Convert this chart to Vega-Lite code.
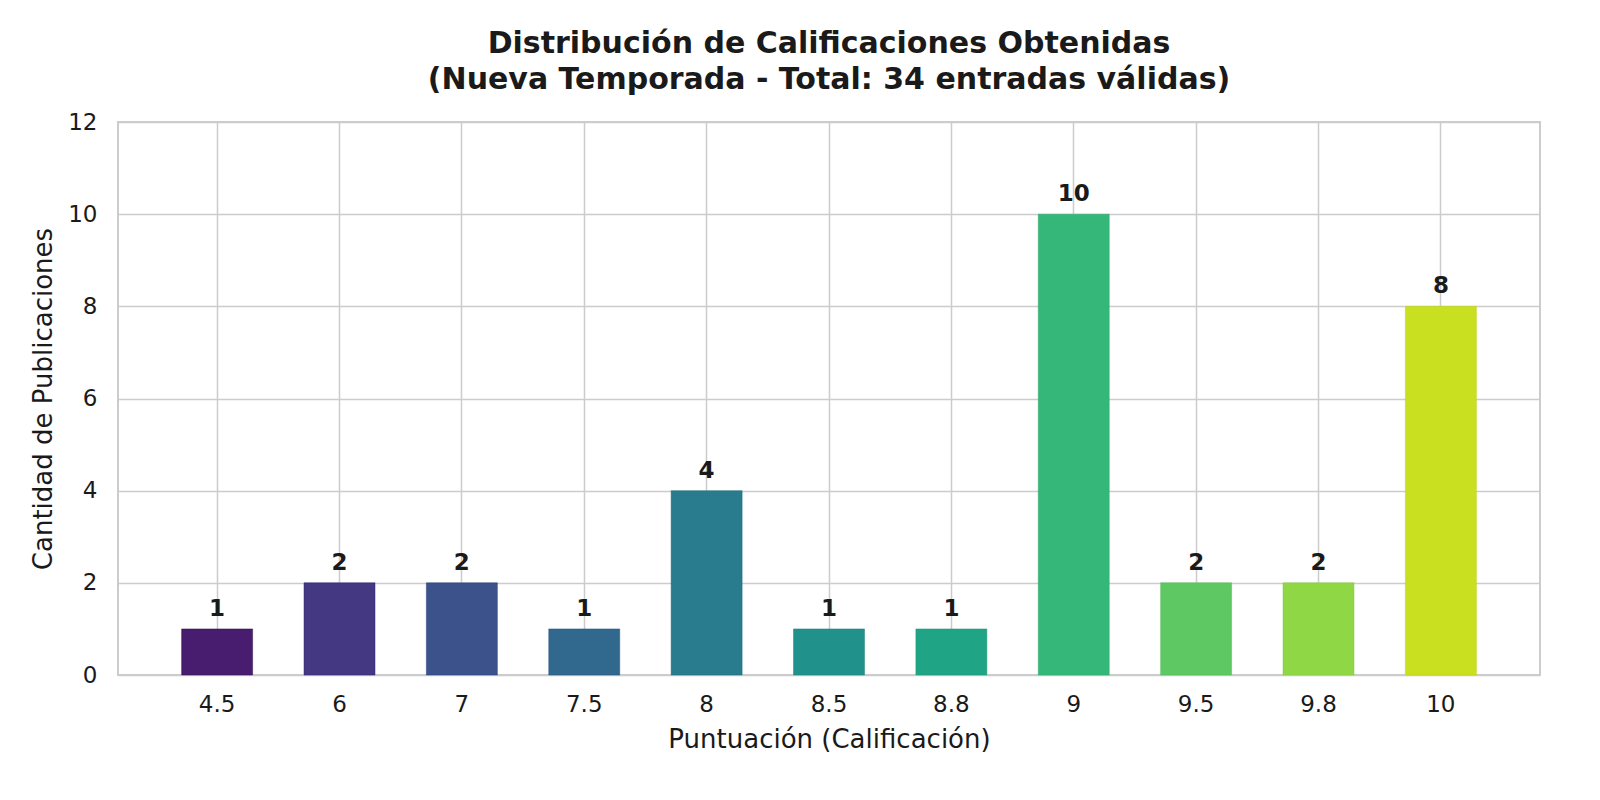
{
  "$schema": "https://vega.github.io/schema/vega-lite/v6.json",
  "autosize": {"type": "none"},
  "width": 1422,
  "height": 553,
  "padding": {"left": 118, "top": 122, "right": 60, "bottom": 125},
  "background": "white",
  "config": {
    "font": "DejaVu Sans",
    "view": {"stroke": "#cccccc", "strokeWidth": 2},
    "axis": {
      "grid": true,
      "gridColor": "#cccccc",
      "gridWidth": 1.5,
      "domain": false,
      "ticks": false,
      "labelFont": "DejaVu Sans",
      "labelFontSize": 23,
      "labelColor": "#1a1a1a",
      "titleFont": "DejaVu Sans",
      "titleFontSize": 26,
      "titleFontWeight": "normal",
      "titleColor": "#1a1a1a"
    }
  },
  "title": {
    "text": ["Distribución de Calificaciones Obtenidas", "(Nueva Temporada - Total: 34 entradas válidas)"],
    "font": "DejaVu Sans",
    "fontSize": 30,
    "fontWeight": "bold",
    "color": "#1a1a1a",
    "lineHeight": 36,
    "offset": 16,
    "anchor": "middle"
  },
  "data": {
    "values": [
      {"puntuacion": "4.5", "cantidad": 1},
      {"puntuacion": "6", "cantidad": 2},
      {"puntuacion": "7", "cantidad": 2},
      {"puntuacion": "7.5", "cantidad": 1},
      {"puntuacion": "8", "cantidad": 4},
      {"puntuacion": "8.5", "cantidad": 1},
      {"puntuacion": "8.8", "cantidad": 1},
      {"puntuacion": "9", "cantidad": 10},
      {"puntuacion": "9.5", "cantidad": 2},
      {"puntuacion": "9.8", "cantidad": 2},
      {"puntuacion": "10", "cantidad": 8}
    ]
  },
  "encoding": {
    "x": {
      "field": "puntuacion",
      "type": "nominal",
      "sort": null,
      "scale": {"paddingInner": 0.42, "paddingOuter": 0.52},
      "axis": {
        "title": "Puntuación (Calificación)",
        "labelAngle": 0,
        "labelPadding": 18,
        "titlePadding": 10,
        "bandPosition": 0.5
      }
    },
    "y": {
      "field": "cantidad",
      "type": "quantitative",
      "scale": {"domain": [0, 12], "nice": false},
      "axis": {
        "title": "Cantidad de Publicaciones",
        "values": [0, 2, 4, 6, 8, 10, 12],
        "labelPadding": 21,
        "titlePadding": 11
      }
    }
  },
  "layer": [
    {
      "mark": {"type": "bar", "strokeWidth": 0.8, "strokeOpacity": 0.6},
      "encoding": {
        "color": {
          "field": "puntuacion",
          "type": "nominal",
          "sort": null,
          "legend": null,
          "scale": {
            "range": ["#481c6e", "#453882", "#3b528b", "#31688e", "#287c8e", "#21918c", "#20a486", "#35b779", "#5ec962", "#8fd744", "#c8e020"]
          }
        },
        "stroke": {
          "field": "puntuacion",
          "type": "nominal",
          "sort": null,
          "legend": null,
          "scale": {
            "range": ["#2a0f45", "#1e1e70", "#203f80", "#1d4f80", "#1c6a7a", "#1a7f78", "#1a9478", "#2aa86c", "#4fb855", "#80c83a", "#b8d018"]
          }
        }
      }
    },
    {
      "mark": {"type": "text", "dy": -20, "fontSize": 23, "fontWeight": "bold", "color": "#1a1a1a", "font": "DejaVu Sans"},
      "encoding": {
        "text": {"field": "cantidad", "type": "quantitative"}
      }
    }
  ]
}
